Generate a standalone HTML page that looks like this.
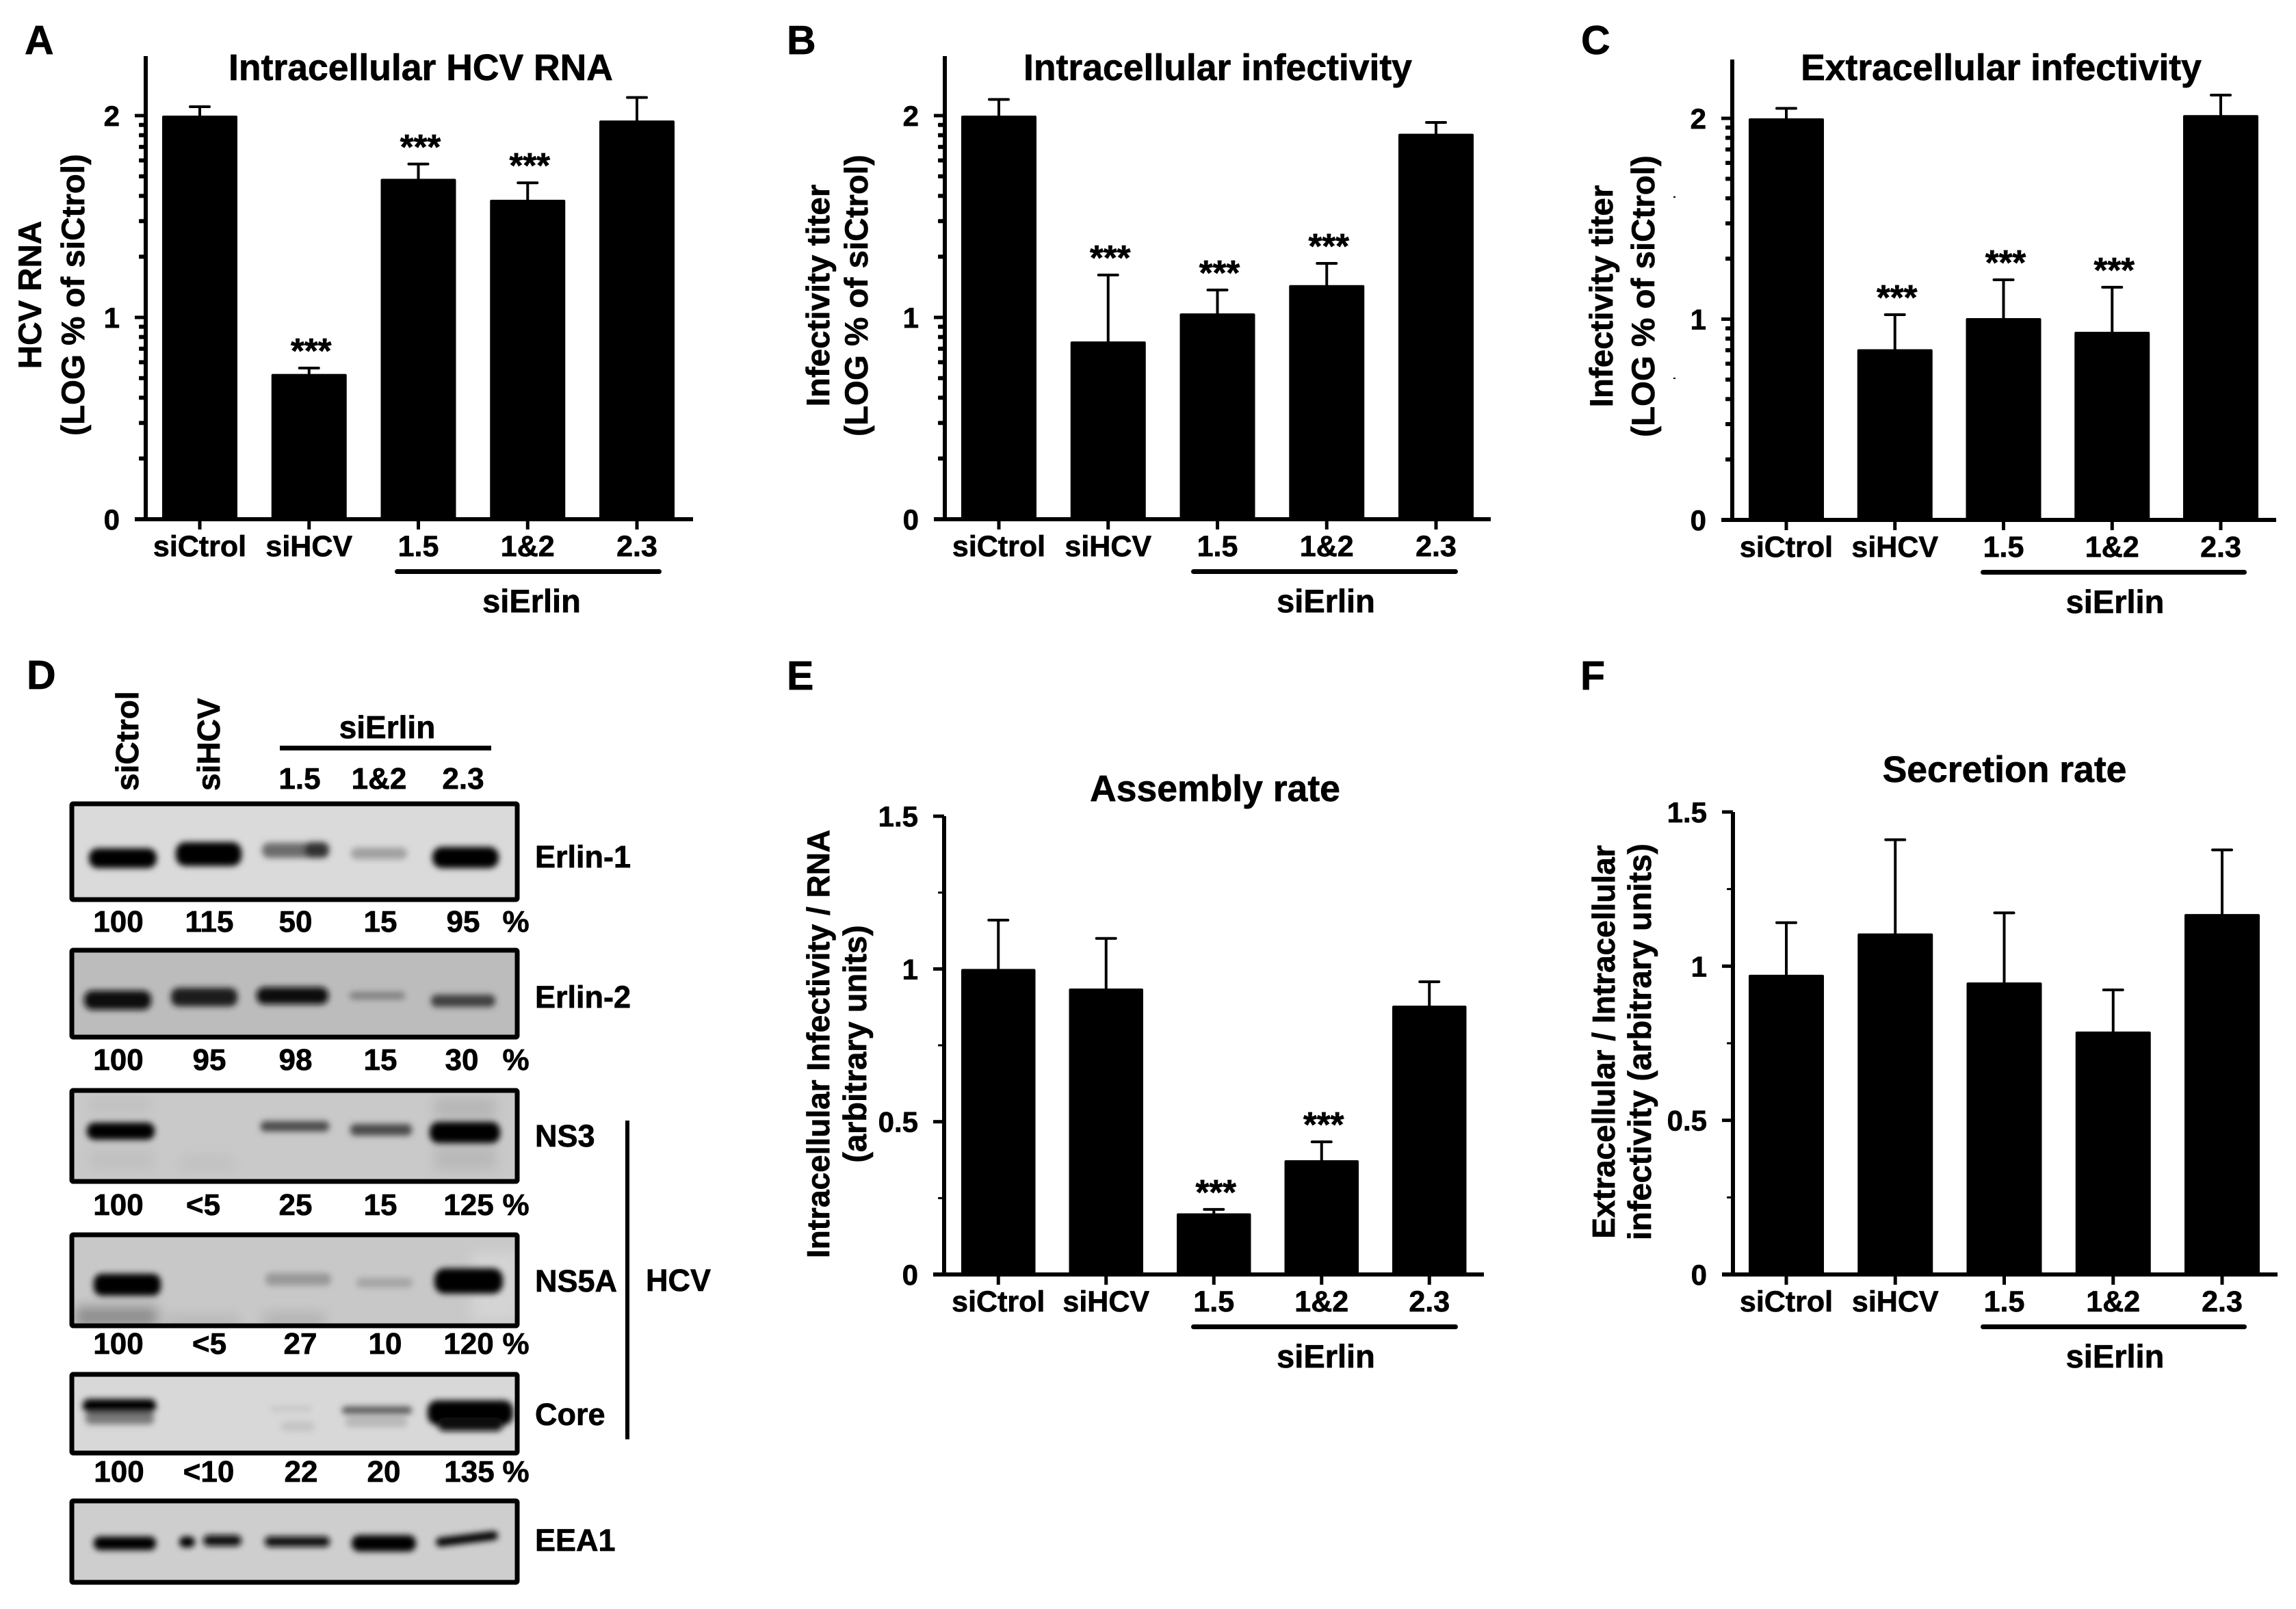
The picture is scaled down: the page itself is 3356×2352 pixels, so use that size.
<!DOCTYPE html>
<html lang="en">
<head>
<meta charset="utf-8">
<title>Erlin knockdown and HCV figure</title>
<style>
html,body{margin:0;padding:0;background:#fff;}
svg{display:block;}
text{font-family:"Liberation Sans",Arial,sans-serif;font-weight:bold;fill:#000;stroke:#000;stroke-width:.7px;}
.pct,.lane{font-size:44px;text-anchor:middle;}
.prot{font-size:45px;}
.letter{font-size:59px;}
</style>
</head>
<body>
<svg id="fig" xmlns="http://www.w3.org/2000/svg" width="3356" height="2352" viewBox="0 0 3356 2352">
<defs>
<filter id="b3" x="-30%" y="-100%" width="160%" height="300%"><feGaussianBlur stdDeviation="4.5"/></filter>
<filter id="b8" x="-30%" y="-100%" width="160%" height="300%"><feGaussianBlur stdDeviation="9"/></filter>
<clipPath id="c1"><rect x="105" y="1175" width="651" height="140"/></clipPath>
<clipPath id="c2"><rect x="105" y="1389" width="651" height="127"/></clipPath>
<clipPath id="c3"><rect x="105" y="1594" width="651" height="133"/></clipPath>
<clipPath id="c4"><rect x="105" y="1805" width="651" height="133"/></clipPath>
<clipPath id="c5"><rect x="105" y="2009" width="651" height="115"/></clipPath>
<clipPath id="c6"><rect x="105" y="2194" width="651" height="119"/></clipPath>
</defs>

<!-- Panel D: western blots -->
<g>
<text class="letter" x="39" y="1007">D</text>
<text class="lane" style="text-anchor:start;font-size:46px" transform="translate(202,1156) rotate(-90)">siCtrol</text>
<text class="lane" style="text-anchor:start;font-size:46px" transform="translate(321,1156) rotate(-90)">siHCV</text>
<text class="lane" style="font-size:46px" x="566" y="1079">siErlin</text>
<rect x="409" y="1090" width="309" height="7"/>
<text class="lane" x="438" y="1153">1.5</text>
<text class="lane" x="554" y="1153">1&amp;2</text>
<text class="lane" x="677" y="1153">2.3</text>

<g>
<rect x="105" y="1175" width="651" height="140" fill="#dadada"/>
<g clip-path="url(#c1)" filter="url(#b3)">
<rect x="130" y="1240" width="99" height="29" rx="13" fill="#000"/>
<rect x="257" y="1231" width="96" height="35" rx="14" fill="#000"/>
<rect x="383" y="1232" width="98" height="22" rx="10" fill="#6c6c6c"/>
<rect x="445" y="1231" width="36" height="23" rx="10" fill="#333"/>
<rect x="513" y="1239" width="82" height="17" rx="8" fill="#a0a0a0"/>
<rect x="632" y="1238" width="97" height="31" rx="14" fill="#000"/>
</g>
<rect x="105" y="1175" width="651" height="140" rx="2" fill="none" stroke="#000" stroke-width="7"/>
</g>

<g>
<rect x="105" y="1389" width="651" height="127" fill="#bcbcbc"/>
<g clip-path="url(#c2)" filter="url(#b3)">
<rect x="123" y="1448" width="98" height="28" rx="12" fill="#0a0a0a"/>
<rect x="250" y="1444" width="97" height="27" rx="11" fill="#1c1c1c"/>
<rect x="375" y="1443" width="105" height="25" rx="11" fill="#0a0a0a"/>
<rect x="511" y="1450" width="81" height="11" rx="5" fill="#808080"/>
<rect x="630" y="1454" width="94" height="18" rx="8" fill="#404040"/>
</g>
<rect x="105" y="1389" width="651" height="127" rx="2" fill="none" stroke="#000" stroke-width="7"/>
</g>

<g>
<rect x="105" y="1594" width="651" height="133" fill="#c9c9c9"/>
<g clip-path="url(#c3)">
<g filter="url(#b8)" opacity=".4">
<rect x="130" y="1605" width="90" height="20" fill="#b0b0b0"/>
<rect x="130" y="1680" width="95" height="30" fill="#b4b4b4"/>
<rect x="262" y="1690" width="80" height="20" fill="#b4b4b4"/>
<rect x="635" y="1605" width="90" height="30" fill="#999"/>
<rect x="635" y="1675" width="90" height="35" fill="#a0a0a0"/>
</g>
<g filter="url(#b3)">
<rect x="127" y="1641" width="99" height="25" rx="11" fill="#000"/>
<rect x="381" y="1639" width="100" height="15" rx="6" fill="#4c4c4c"/>
<rect x="512" y="1643" width="90" height="17" rx="7" fill="#4c4c4c"/>
<rect x="628" y="1640" width="103" height="31" rx="13" fill="#000"/>
</g>
</g>
<rect x="105" y="1594" width="651" height="133" rx="2" fill="none" stroke="#000" stroke-width="7"/>
</g>

<g>
<rect x="105" y="1805" width="651" height="133" fill="#c8c8c8"/>
<g clip-path="url(#c4)">
<g filter="url(#b8)">
<rect x="110" y="1910" width="120" height="30" fill="#8e8e8e"/>
<rect x="240" y="1922" width="110" height="20" fill="#b8b8b8"/>
<rect x="385" y="1918" width="90" height="25" fill="#b4b4b4"/>
<rect x="690" y="1830" width="70" height="100" fill="#d4d4d4"/>
</g>
<g filter="url(#b3)">
<rect x="137" y="1862" width="98" height="32" rx="12" fill="#000"/>
<rect x="388" y="1861" width="96" height="18" rx="8" fill="#989898"/>
<rect x="521" y="1868" width="82" height="14" rx="6" fill="#a4a4a4"/>
<rect x="635" y="1854" width="100" height="37" rx="15" fill="#000"/>
</g>
</g>
<rect x="105" y="1805" width="651" height="133" rx="2" fill="none" stroke="#000" stroke-width="7"/>
</g>

<g>
<rect x="105" y="2009" width="651" height="115" fill="#d8d8d8"/>
<g clip-path="url(#c5)">
<g filter="url(#b3)">
<rect x="125" y="2064" width="100" height="18" rx="7" fill="#787878"/>
<rect x="505" y="2070" width="90" height="16" rx="6" fill="#b8b8b8"/>
<rect x="410" y="2078" width="50" height="14" rx="6" fill="#c4c4c4"/>
<rect x="395" y="2056" width="60" height="7" rx="3" fill="#c4c4c4"/>
<rect x="121" y="2045" width="107" height="20" rx="9" fill="#000"/>
<rect x="500" y="2056" width="102" height="11" rx="5" fill="#585858"/>
<rect x="625" y="2047" width="125" height="36" rx="14" fill="#000"/>
<rect x="640" y="2072" width="95" height="20" rx="9" fill="#0a0a0a"/>
</g>
</g>
<rect x="105" y="2009" width="651" height="115" rx="2" fill="none" stroke="#000" stroke-width="7"/>
</g>

<g>
<rect x="105" y="2194" width="651" height="119" fill="#cecece"/>
<g clip-path="url(#c6)" filter="url(#b3)">
<rect x="137" y="2246" width="91" height="20" rx="9" fill="#000"/>
<rect x="262" y="2246" width="23" height="16" rx="8" fill="#000"/>
<rect x="297" y="2244" width="56" height="16" rx="8" fill="#0a0a0a"/>
<rect x="387" y="2246" width="95" height="15" rx="7" fill="#0a0a0a"/>
<rect x="514" y="2244" width="94" height="24" rx="11" fill="#000"/>
<rect x="637" y="2243" width="91" height="13" rx="6" fill="#000" transform="rotate(-7 682 2249)"/>
</g>
<rect x="105" y="2194" width="651" height="119" rx="2" fill="none" stroke="#000" stroke-width="7"/>
</g>

<g>
<text class="pct" x="173" y="1362">100</text><text class="pct" x="306" y="1362">115</text><text class="pct" x="432" y="1362">50</text><text class="pct" x="556" y="1362">15</text><text class="pct" x="677" y="1362">95</text><text class="pct" x="754" y="1362">%</text>
</g>
<g>
<text class="pct" x="173" y="1564">100</text><text class="pct" x="306" y="1564">95</text><text class="pct" x="432" y="1564">98</text><text class="pct" x="556" y="1564">15</text><text class="pct" x="675" y="1564">30</text><text class="pct" x="754" y="1564">%</text>
</g>
<g>
<text class="pct" x="173" y="1776">100</text><text class="pct" x="297" y="1776">&lt;5</text><text class="pct" x="432" y="1776">25</text><text class="pct" x="556" y="1776">15</text><text class="pct" x="685" y="1776">125</text><text class="pct" x="754" y="1776">%</text>
</g>
<g>
<text class="pct" x="173" y="1979">100</text><text class="pct" x="306" y="1979">&lt;5</text><text class="pct" x="439" y="1979">27</text><text class="pct" x="563" y="1979">10</text><text class="pct" x="685" y="1979">120</text><text class="pct" x="754" y="1979">%</text>
</g>
<g>
<text class="pct" x="174" y="2166">100</text><text class="pct" x="305" y="2166">&lt;10</text><text class="pct" x="440" y="2166">22</text><text class="pct" x="561" y="2166">20</text><text class="pct" x="686" y="2166">135</text><text class="pct" x="754" y="2166">%</text>
</g>

<text class="prot" x="782" y="1268">Erlin-1</text>
<text class="prot" x="782" y="1473">Erlin-2</text>
<text class="prot" x="782" y="1676">NS3</text>
<text class="prot" x="782" y="1888">NS5A</text>
<text class="prot" x="782" y="2083">Core</text>
<text class="prot" x="782" y="2267">EEA1</text>
<text class="prot" x="944" y="1887">HCV</text>
<rect x="914" y="1638" width="6" height="466"/>
</g>

<text class="letter" x="36" y="79">A</text>
<text class="letter" x="1150" y="79">B</text>
<text class="letter" x="2311" y="79">C</text>
<text class="letter" x="1150" y="1008">E</text>
<text class="letter" x="2310" y="1008">F</text>
<rect x="2446" y="287" width="3" height="2"/>
<rect x="2446" y="552" width="3" height="2"/>
</svg>

<script>
const categories = ['siCtrol', 'siHCV', '1.5', '1&2', '2.3'];

const valuesA = [2.0, 0.72, 1.687, 1.583, 1.976];
const errorTopsA = [2.044, 0.749, 1.76, 1.667, 2.09];
const significanceA = ['', '***', '***', '***', ''];

const valuesB = [2.0, 0.881, 1.02, 1.16, 1.91];
const errorTopsB = [2.08, 1.21, 1.136, 1.268, 1.966];
const significanceB = ['', '***', '***', '***', ''];

const valuesC = [2.0, 0.85, 1.005, 0.937, 2.016];
const errorTopsC = [2.05, 1.022, 1.196, 1.159, 2.116];
const significanceC = ['', '***', '***', '***', ''];

const valuesE = [1.0, 0.936, 0.2, 0.374, 0.88];
const errorTopsE = [1.16, 1.10, 0.213, 0.434, 0.958];
const significanceE = ['', '', '***', '***', ''];

const valuesF = [0.972, 1.106, 0.947, 0.788, 1.169];
const errorTopsF = [1.141, 1.41, 1.173, 0.923, 1.377];
const significanceF = ['', '', '', '', ''];

const logMajorTicks = [0, 1, 2];
const logMajorLabels = ['0', '1', '2'];
const logMinorTicks = [0.301, 0.477, 0.602, 0.699, 0.778, 0.845, 0.903, 0.954,
                       1.301, 1.477, 1.602, 1.699, 1.778, 1.845, 1.903, 1.954];
const linearMajorTicks = [0, 0.5, 1, 1.5];
const linearMajorLabels = ['0', '0.5', '1', '1.5'];
const linearMinorTicks = [0.25, 0.75, 1.25];

const NS = 'http://www.w3.org/2000/svg';
const fig = document.getElementById('fig');

function shape(parent, tag, props) {
  const node = document.createElementNS(NS, tag);
  for (const key in props) node.setAttribute(key, props[key]);
  parent.appendChild(node);
  return node;
}
function label(parent, content, props) {
  const node = shape(parent, 'text', props);
  node.textContent = content;
  return node;
}
function slug(s) {
  return s.toLowerCase().replace('&', '-and-').replace('.', '-');
}

function drawPanel(cfg, values, errorTops, significance, majorTicks, majorLabels, minorTicks) {
  const yScale = v => cfg.y0 - v * cfg.unit;
  const xLeft = i => cfg.barStart + i * cfg.pitch;
  const xCenter = i => xLeft(i) + cfg.barWidth / 2;

  const panel = shape(fig, 'g', {});
  
  

  values.forEach((v, i) => {
    const bar = shape(panel, 'rect', {x: xLeft(i), y: yScale(v), width: cfg.barWidth, height: cfg.y0 - yScale(v), rx: 2});
    
    

    const errorBar = shape(panel, 'path', {
      d: 'M' + xCenter(i) + ' ' + yScale(v) + 'V' + yScale(errorTops[i]) + 'M' + (xCenter(i) - 14) + ' ' + yScale(errorTops[i]) + 'H' + (xCenter(i) + 14),
      stroke: '#000', 'stroke-width': 4, fill: 'none', 'stroke-linecap': 'round'
    });
    
    

    const xTick = shape(panel, 'rect', {x: xCenter(i) - 2.5, y: cfg.y0, width: 5, height: 15});
    
    

    const xLabel = label(panel, categories[i], {x: xCenter(i), y: cfg.y0 + 54, 'font-size': 43, 'text-anchor': 'middle'});
    
    

    if (significance[i]) {
      const star = label(panel, significance[i], {x: xCenter(i) + 3, y: yScale(errorTops[i]) - 8, 'font-size': 51, 'text-anchor': 'middle'});
      
      
    }
  });

  const yAxis = shape(panel, 'rect', {x: cfg.axisX - 3, y: cfg.axisTop, width: 6, height: cfg.y0 - cfg.axisTop + 3});
  
  

  const xAxis = shape(panel, 'rect', {x: cfg.axisX - 16, y: cfg.y0 - 3, width: cfg.axisRight - cfg.axisX + 16, height: 6});
  
  

  majorTicks.forEach((t, i) => {
    const tick = shape(panel, 'rect', {x: cfg.axisX - 16, y: yScale(t) - 2.5, width: 16, height: 5});
    
    

    const tickLabel = label(panel, majorLabels[i], {x: cfg.axisX - 38, y: yScale(t) + 15, 'font-size': 42, 'text-anchor': 'end'});
    
    
  });

  minorTicks.forEach(t => {
    const minor = shape(panel, 'rect', {x: cfg.axisX - cfg.minorLen, y: yScale(t) - cfg.minorThick / 2, width: cfg.minorLen, height: cfg.minorThick, rx: 1});
    
    
  });

  const title = label(panel, cfg.title, {x: cfg.titleX, y: cfg.titleY, 'font-size': 53.5, 'text-anchor': 'middle'});
  
  

  const yTitle1 = label(panel, cfg.yLine1, {transform: 'translate(' + cfg.yLine1X + ',' + cfg.yCenter + ') rotate(-90)', 'font-size': cfg.yFont1, 'text-anchor': 'middle'});
  
  

  const yTitle2 = label(panel, cfg.yLine2, {transform: 'translate(' + cfg.yLine2X + ',' + cfg.yCenter + ') rotate(-90)', 'font-size': cfg.yFont2, 'text-anchor': 'middle'});
  
  

  const groupLine = shape(panel, 'rect', {x: cfg.lineX1, y: cfg.y0 + 73, width: cfg.lineX2 - cfg.lineX1, height: 7, rx: 3.5});
  
  

  const groupLabel = label(panel, 'siErlin', {x: (cfg.lineX1 + cfg.lineX2) / 2 + cfg.groupShift, y: cfg.y0 + 136, 'font-size': 47, 'text-anchor': 'middle'});
  
  
}

drawPanel({id: 'a', y0: 759, unit: 295, axisX: 213, axisTop: 82, axisRight: 1013, barStart: 237, pitch: 159.75, barWidth: 110,
  title: 'Intracellular HCV RNA', titleX: 615, titleY: 117,
  yLine1: 'HCV RNA', yLine1X: 60, yLine2: '(LOG % of siCtrol)', yLine2X: 123, yCenter: 431, yFont1: 47.5, yFont2: 47.5,
  lineX1: 577, lineX2: 967, groupShift: 5, minorLen: 10, minorThick: 6}, valuesA, errorTopsA, significanceA, logMajorTicks, logMajorLabels, logMinorTicks);

drawPanel({id: 'b', y0: 759, unit: 295, axisX: 1381, axisTop: 82, axisRight: 2179, barStart: 1405, pitch: 159.75, barWidth: 110,
  title: 'Intracellular infectivity', titleX: 1780, titleY: 117,
  yLine1: 'Infectivity titer', yLine1X: 1212, yLine2: '(LOG % of siCtrol)', yLine2X: 1268, yCenter: 432, yFont1: 47.5, yFont2: 47.5,
  lineX1: 1741, lineX2: 2131, groupShift: 2, minorLen: 10, minorThick: 6}, valuesB, errorTopsB, significanceB, logMajorTicks, logMajorLabels, logMinorTicks);

drawPanel({id: 'c', y0: 760, unit: 293.5, axisX: 2532, axisTop: 87, axisRight: 3327, barStart: 2556, pitch: 158.75, barWidth: 110,
  title: 'Extracellular infectivity', titleX: 2925, titleY: 117,
  yLine1: 'Infectivity titer', yLine1X: 2357, yLine2: '(LOG % of siCtrol)', yLine2X: 2418, yCenter: 433, yFont1: 47.5, yFont2: 47.5,
  lineX1: 2895, lineX2: 3284, groupShift: 2, minorLen: 10, minorThick: 6}, valuesC, errorTopsC, significanceC, logMajorTicks, logMajorLabels, logMinorTicks);

drawPanel({id: 'e', y0: 1863, unit: 446.6, axisX: 1380, axisTop: 1193, axisRight: 2169, barStart: 1405, pitch: 157.5, barWidth: 108.5,
  title: 'Assembly rate', titleX: 1776, titleY: 1171,
  yLine1: 'Intracellular Infectivity / RNA', yLine1X: 1212, yLine2: '(arbitrary units)', yLine2X: 1266, yCenter: 1526, yFont1: 46, yFont2: 47,
  lineX1: 1741, lineX2: 2131, groupShift: 2, minorLen: 9, minorThick: 3}, valuesE, errorTopsE, significanceE, linearMajorTicks, linearMajorLabels, linearMinorTicks);

drawPanel({id: 'f', y0: 1863, unit: 450.7, axisX: 2533, axisTop: 1187, axisRight: 3329, barStart: 2556, pitch: 159.25, barWidth: 110,
  title: 'Secretion rate', titleX: 2930, titleY: 1143,
  yLine1: 'Extracellular / Intracellular', yLine1X: 2360, yLine2: 'infectivity (arbitrary units)', yLine2X: 2413, yCenter: 1523, yFont1: 46, yFont2: 47,
  lineX1: 2895, lineX2: 3284, groupShift: 2, minorLen: 9, minorThick: 3}, valuesF, errorTopsF, significanceF, linearMajorTicks, linearMajorLabels, linearMinorTicks);
</script>
</body>
</html>
